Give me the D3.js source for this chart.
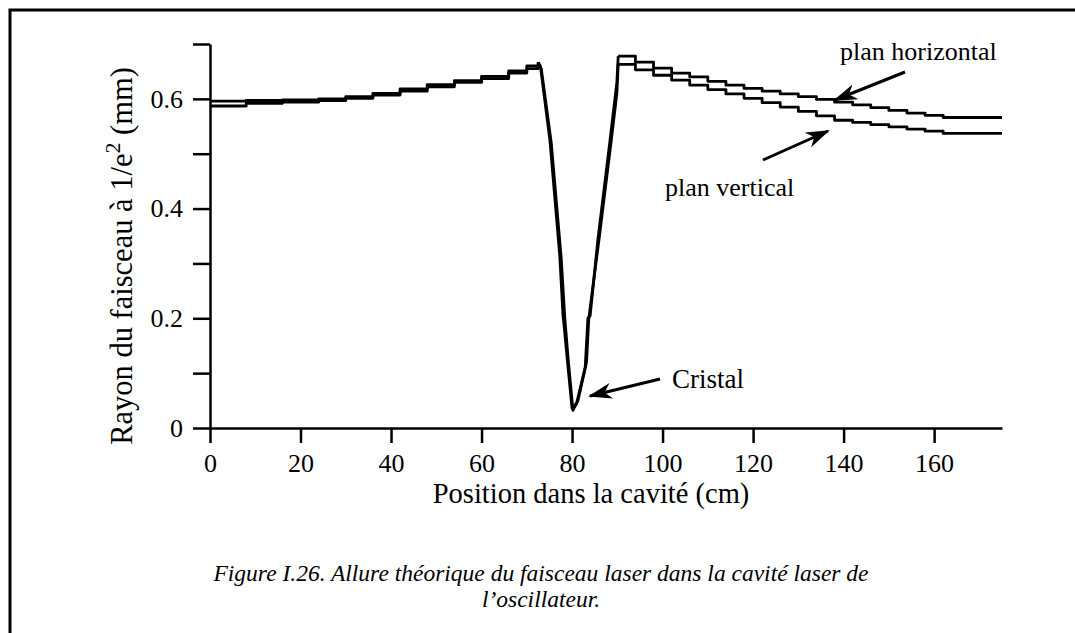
<!DOCTYPE html>
<html>
<head>
<meta charset="utf-8">
<script src="https://cdn.jsdelivr.net/npm/d3@7.9.0/dist/d3.min.js"></script>
<style>
  body { margin: 0; background: #fff; }
  svg { display: block; }
  text { font-family: "Liberation Serif", "Times New Roman", serif; fill: #000; }
  .axis path, .axis line { stroke: #000; stroke-width: 2.5; }
  .axis text { font-size: 26px; }
</style>
</head>
<body>
<svg id="chart" width="1075" height="633"></svg>
<script>
// position (cm) and beam radius (mm)
const leftPos   = [0, 8, 16, 24, 30, 36, 42, 48, 54, 60, 66, 70, 72.5];
const leftHoriz = [0.596, 0.597, 0.598, 0.600, 0.604, 0.610, 0.618, 0.626, 0.633, 0.641, 0.651, 0.660, 0.667];
const leftVert  = [0.587, 0.592, 0.594, 0.597, 0.601, 0.607, 0.614, 0.622, 0.630, 0.637, 0.647, 0.655, 0.664];

const dipPosH   = [72.5, 73.0, 75.1, 77.3, 78.0, 78.2, 79.0, 80.0, 81.0, 82.9, 83.5, 84.0, 85.7, 88.4, 89.9, 90.2];
const dipHoriz  = [0.667, 0.660, 0.525, 0.312, 0.205, 0.190, 0.120, 0.036, 0.045, 0.110, 0.200, 0.205, 0.343, 0.525, 0.630, 0.678];
const dipPosV   = [72.5, 73.2, 75.4, 77.6, 78.4, 79.2, 80.2, 81.3, 83.2, 83.7, 85.9, 88.6, 89.9, 90.2];
const dipVert   = [0.664, 0.655, 0.520, 0.310, 0.200, 0.120, 0.032, 0.050, 0.120, 0.200, 0.340, 0.520, 0.610, 0.663];

const rightPos   = [90.2, 94, 98, 102, 106, 110, 114, 118, 122, 126, 130, 134, 138, 142, 146, 150, 154, 158, 162, 175];
const rightHoriz = [0.678, 0.667, 0.656, 0.647, 0.640, 0.632, 0.625, 0.619, 0.614, 0.609, 0.604, 0.599, 0.594, 0.589, 0.584, 0.579, 0.574, 0.570, 0.566, 0.566];
const rightVert  = [0.663, 0.653, 0.643, 0.634, 0.625, 0.617, 0.609, 0.601, 0.593, 0.585, 0.577, 0.569, 0.561, 0.557, 0.553, 0.549, 0.545, 0.541, 0.537, 0.537];

const xTicks = [0, 20, 40, 60, 80, 100, 120, 140, 160];
const yTicks = [0, 0.1, 0.2, 0.3, 0.4, 0.5, 0.6, 0.7];
const yLabelled = [0, 0.2, 0.4, 0.6];

const serif = '"Liberation Serif", "Times New Roman", serif';
const svg = d3.select('#chart');

// frame of the scanned page
svg.append('path')
  .attr('d', 'M10,633 L10,10 L1075,10')
  .attr('fill', 'none')
  .attr('stroke', '#000')
  .attr('stroke-width', 3);

const x = d3.scaleLinear().domain([0, 175]).range([210, 1002]);
const y = d3.scaleLinear().domain([0, 0.7]).range([428, 44]);

svg.append('g')
  .attr('class', 'axis')
  .attr('transform', 'translate(0,428)')
  .call(d3.axisBottom(x).tickValues(xTicks).tickSize(15).tickSizeOuter(0).tickPadding(11).tickFormat(d3.format('d')))
  .attr('font-family', serif).attr('font-size', 26);

svg.append('g')
  .attr('class', 'axis')
  .attr('transform', 'translate(210,0)')
  .call(d3.axisLeft(y).tickValues(yTicks).tickSize(17).tickSizeOuter(0).tickPadding(10)
    .tickFormat(d => yLabelled.some(v => Math.abs(v - d) < 1e-9) ? (d === 0 ? '0' : d3.format('.1f')(d)) : ''))
  .attr('font-family', serif).attr('font-size', 26);

// curves: stepped outside the crystal, smooth through it
const stepLine = d3.line().x(d => x(d[0])).y(d => y(d[1])).curve(d3.curveStepAfter);
const smoothLine = d3.line().x(d => x(d[0])).y(d => y(d[1]));
const zip = (a, b) => a.map((v, i) => [v, b[i]]);

const segments = [
  [stepLine, zip(leftPos, leftHoriz)],
  [stepLine, zip(leftPos, leftVert)],
  [smoothLine, zip(dipPosH, dipHoriz)],
  [smoothLine, zip(dipPosV, dipVert)],
  [stepLine, zip(rightPos, rightHoriz)],
  [stepLine, zip(rightPos, rightVert)]
];
segments.forEach(([gen, pts]) => {
  svg.append('path')
    .attr('d', gen(pts))
    .attr('fill', 'none')
    .attr('stroke', '#000')
    .attr('stroke-width', 2.8)
    .attr('stroke-linejoin', 'round');
});

// arrows
svg.append('defs').append('marker')
  .attr('id', 'head')
  .attr('viewBox', '0 0 12 8')
  .attr('refX', 11).attr('refY', 4)
  .attr('markerWidth', 8).attr('markerHeight', 6)
  .attr('markerUnits', 'strokeWidth')
  .attr('orient', 'auto')
  .append('path')
  .attr('d', 'M0,0 L12,4 L0,8 L3.5,4 Z')
  .attr('fill', '#000');

const arrows = [
  [905, 72, 835, 100],
  [763, 160, 828, 131],
  [660, 379, 590, 396]
];
arrows.forEach(a => {
  svg.append('line')
    .attr('x1', a[0]).attr('y1', a[1]).attr('x2', a[2]).attr('y2', a[3])
    .attr('stroke', '#000').attr('stroke-width', 3)
    .attr('marker-end', 'url(#head)');
});

const label = (tx, ty, t, size, anchor) => svg.append('text')
  .attr('x', tx).attr('y', ty).attr('text-anchor', anchor || 'start')
  .attr('font-family', serif)
  .attr('font-size', size).text(t);

label(840, 60, 'plan horizontal', 26);
label(665, 196, 'plan vertical', 26);
label(672, 388, 'Cristal', 27);

// axis titles
label(591, 503, 'Position dans la cavité (cm)', 28.5, 'middle');

const yt = svg.append('text')
  .attr('transform', 'translate(132,256) rotate(-90)')
  .attr('text-anchor', 'middle')
  .attr('font-family', serif)
  .attr('font-size', 30.5);
yt.append('tspan').text('Rayon du faisceau à 1/e');
yt.append('tspan').attr('font-size', 22).attr('dy', -12).text('2');
yt.append('tspan').attr('dy', 12).text(' (mm)');

// caption
const cap = svg.append('text')
  .attr('text-anchor', 'middle')
  .attr('font-family', serif)
  .attr('font-size', 23.5).attr('font-style', 'italic');
cap.append('tspan').attr('x', 541).attr('y', 581)
  .text('Figure I.26. Allure théorique du faisceau laser dans la cavité laser de');
cap.append('tspan').attr('x', 541).attr('y', 607)
  .text('l’oscillateur.');
</script>
</body>
</html>
